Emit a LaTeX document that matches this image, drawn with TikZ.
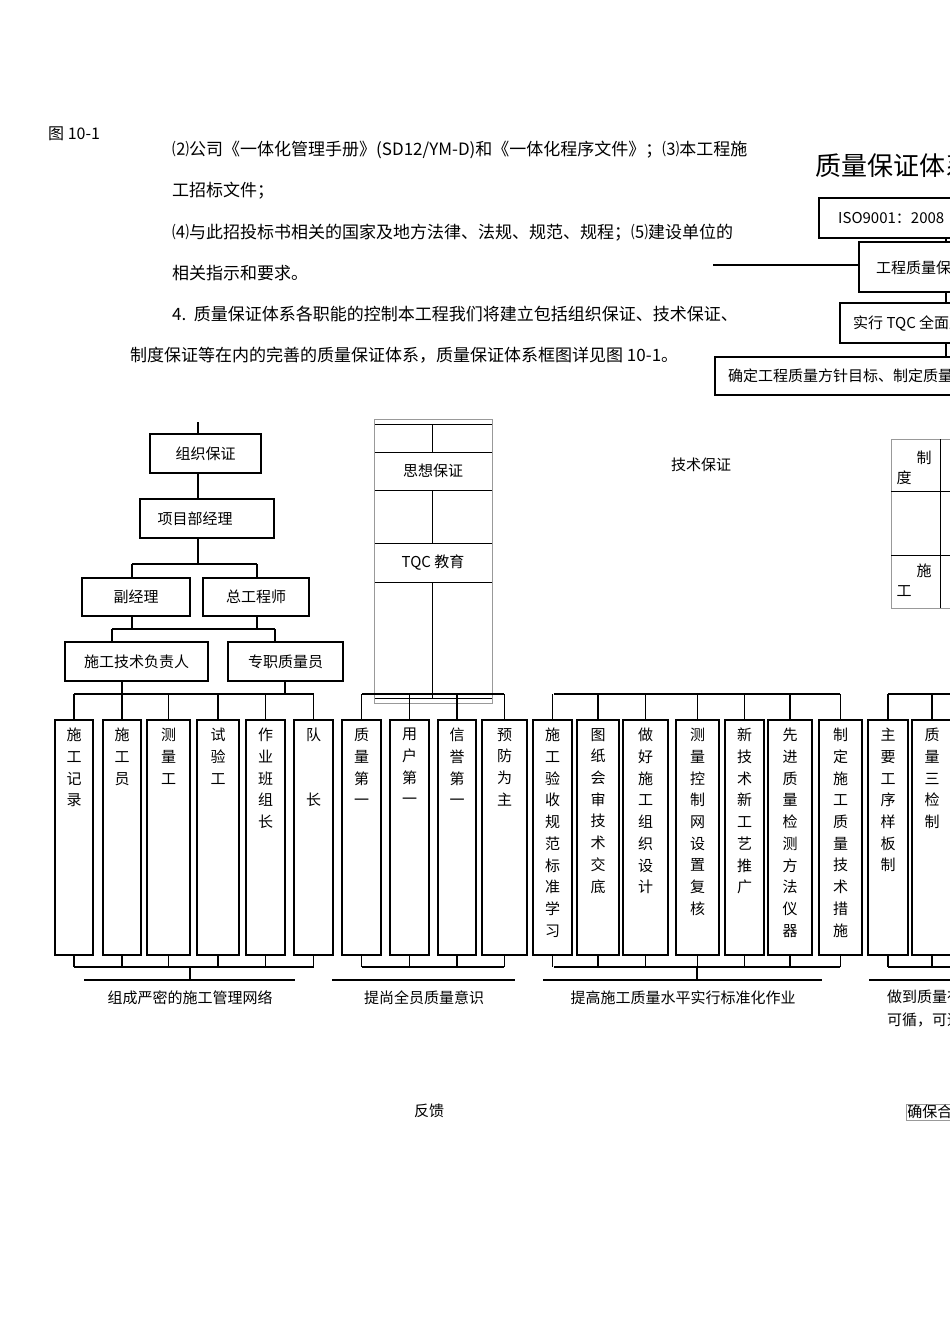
\documentclass[tikz,border=0pt]{standalone}
\usepackage{fontspec}
\setmainfont{Liberation Serif}
\newfontfamily\cjk{Noto Sans CJK SC}
\begin{document}
\begin{tikzpicture}[x=1pt,y=-1pt,
  every node/.style={font=\cjk\fontsize{15}{18}\selectfont,inner sep=0pt},
  orgbox/.style={draw,line width=1.6pt},
  colbox/.style={draw,line width=1.4pt},
  ln/.style={line width=1.2pt},
  thin/.style={draw=black!40,line width=0.6pt},
  tbl/.style={line width=0.8pt},
  para/.style={anchor=base west,font=\cjk\fontsize{17}{18}\selectfont}]
\useasboundingbox (0,0) rectangle (950,1344);
\clip (0,0) rectangle (950,1344);
% paragraph text
\node[para,font=\cjk\fontsize{16}{18}\selectfont] (p0) at (48,139) {图 10-1};
\node[para] (p1) at (172,155) {⑵公司《一体化管理手册》(SD12/YM-D)和《一体化程序文件》；⑶本工程施};
\node[para] (p2) at (172,196) {工招标文件；};
\node[para] (p3) at (172,238) {⑷与此招投标书相关的国家及地方法律、法规、规范、规程；⑸建设单位的};
\node[para] (p4) at (172,279) {相关指示和要求。};
\node[para] (p5) at (172,320) {4.\ \ 质量保证体系各职能的控制本工程我们将建立包括组织保证、技术保证、};
\node[para] (p6) at (130,361) {制度保证等在内的完善的质量保证体系，质量保证体系框图详见图 10-1。};
% top right
\node[anchor=base west,font=\cjk\fontsize{26}{28}\selectfont] (title) at (815,175) {质量保证体系};
\draw[orgbox] (819,198) rectangle (1000,238);
\node[anchor=west] (iso) at (838,218) {ISO9001：2008};
\draw[orgbox] (859,242) rectangle (1000,292);
\node[anchor=west] (gc) at (876,268) {工程质量保证};
\draw[orgbox] (840,303) rectangle (1000,343);
\node[anchor=west] (tqc) at (853,323) {实行 TQC 全面质量};
\draw[orgbox] (715,357) rectangle (1000,395);
\node[anchor=west] (qd) at (728,376) {确定工程质量方针目标、制定质量};
\coordinate (lf) at (713,265);
\draw[ln] (lf) -- (859,265);
\draw[ln] (946,238) -- (946,242) (946,292) -- (946,303) (946,343) -- (946,357);
% left org chart
\draw[orgbox] (150,434) rectangle (261,473); \node (zz) at (205.5,453.5) {组织保证};
\draw[orgbox] (140,499) rectangle (274,538); \node (xm) at (195,518.5) {项目部经理};
\draw[orgbox] (82,578) rectangle (190,616); \node (fj) at (136,597) {副经理};
\draw[orgbox] (203,578) rectangle (309,616); \node (zg) at (256,597) {总工程师};
\draw[orgbox] (65,642) rectangle (208,681); \node (sj) at (136.5,661.5) {施工技术负责人};
\draw[orgbox] (228,642) rectangle (343,681); \node (zy) at (285.5,661.5) {专职质量员};
\draw[ln] (198,422) -- (198,434) (198,473) -- (198,499) (198,538) -- (198,564);
\draw[ln] (132,564) -- (257,564) (132,564) -- (132,578) (257,564) -- (257,578);
\draw[ln] (132,616) -- (132,629) (257,616) -- (257,629) (112,629) -- (275,629) (112,629) -- (112,642) (275,629) -- (275,642);
\draw[ln] (122,681) -- (122,694) (285,681) -- (285,694);
% middle column (thought guarantee)
\draw[thin] (374,419) rectangle (492.5,703);
\draw[tbl] (375,424) -- (492,424) (375,452) -- (492,452) (375,490) -- (492,490) (375,543) -- (492,543) (375,582) -- (492,582) (375,698) -- (492,698);
\draw[tbl] (432,424) -- (432,452) (432,490) -- (432,543) (432,582) -- (432,698);
\node (sx) at (433,471) {思想保证};
\node (tq) at (433,563) {TQC 教育};
\node (js) at (701,465) {技术保证};
% right table
\draw[thin] (891,439) rectangle (1000,608);
\draw[tbl] (891,491) -- (1000,491) (891,555) -- (1000,555) (940,439) -- (940,608);
\node (zd1) at (924,458) {制}; \node (zd2) at (904,478) {度};
\node (sg1) at (924,571) {施}; \node (sg2) at (904,591) {工};
% columns
\foreach \i/\a/\b/\t in {
 1/55/93/{施\\工\\记\\录}, 2/103/141/{施\\工\\员}, 3/147/190/{测\\量\\工}, 4/197/239/{试\\验\\工},
 5/246/285/{作\\业\\班\\组\\长}, 6/294/333/{队\\~\\~\\长}, 7/342/381/{质\\量\\第\\一}, 8/390/429/{用\\户\\第\\一},
 9/438/476/{信\\誉\\第\\一}, 10/482/527/{预\\防\\为\\主}, 11/533/572/{施\\工\\验\\收\\规\\范\\标\\准\\学\\习},
 12/577/619/{图\\纸\\会\\审\\技\\术\\交\\底}, 13/623/668/{做\\好\\施\\工\\组\\织\\设\\计},
 14/676/719/{测\\量\\控\\制\\网\\设\\置\\复\\核}, 15/725/764/{新\\技\\术\\新\\工\\艺\\推\\广},
 16/768/812/{先\\进\\质\\量\\检\\测\\方\\法\\仪\\器}, 17/819/862/{制\\定\\施\\工\\质\\量\\技\\术\\措\\施},
 18/868/908/{主\\要\\工\\序\\样\\板\\制}, 19/912/952/{质\\量\\三\\检\\制}} {
  \draw[colbox] (\a,720) rectangle (\b,955);
  \node[anchor=north,align=center,font=\cjk\fontsize{15}{21.7}\selectfont] (c\i) at ({(\a+\b)/2},728) {\t};
  \draw[ln] ({(\a+\b)/2},694) -- ({(\a+\b)/2},720);
  \draw[ln] ({(\a+\b)/2},955) -- ({(\a+\b)/2},967);
}
% top bars
\draw[ln] (74,694) -- (314,694) (362,694) -- (504,694) (554,694) -- (840,694) (888,694) -- (960,694);
% bottom bars
\draw[ln] (74,967) -- (314,967) (362,967) -- (504,967) (554,967) -- (840,967) (888,967) -- (960,967);
\draw[ln] (190,967) -- (190,980) (697,967) -- (697,980);
\draw[ln] (84,980) -- (295,980) (332,980) -- (515,980) (543,980) -- (822,980) (869,980) -- (960,980);
\node (g1) at (190,998) {组成严密的施工管理网络};
\node (g2) at (424,998) {提尚全员质量意识};
\node (g3) at (683,998) {提高施工质量水平实行标准化作业};
\node[anchor=west] (g4) at (887,997) {做到质量有章};
\node[anchor=west] (g4b) at (887,1020) {可循，可追溯};
\node (fk) at (429,1111) {反馈};
\node[draw,thin,inner sep=1pt,anchor=west] (qb) at (906,1112) {确保合格};
\end{tikzpicture}
\end{document}
